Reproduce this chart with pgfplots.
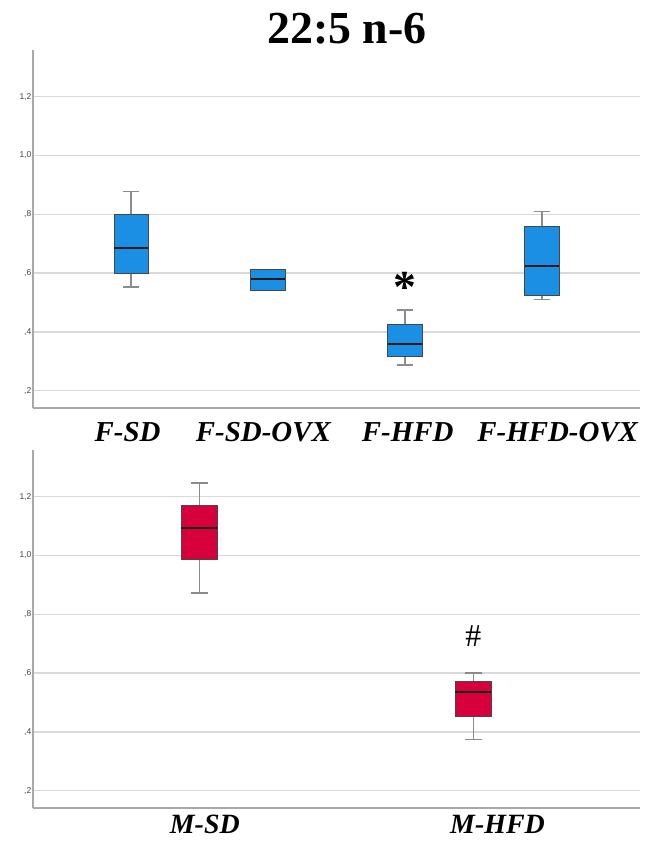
\documentclass[border=0pt]{standalone}
\usepackage{fontspec}
\setmainfont{Liberation Serif}
\newfontfamily\ticksans{Liberation Sans}
\usepackage{pgfplots}
\pgfplotsset{compat=1.18}
\usepgfplotslibrary{statistics}
\definecolor{spssblue}{HTML}{1A8FE3}
\definecolor{spssred}{HTML}{D6003C}
\definecolor{axgray}{HTML}{A8A8A8}
\definecolor{gridgray}{HTML}{D9D9D9}
\definecolor{whiskgray}{HTML}{8C8C8C}
\pgfplotsset{
  spssaxis/.style={
    scale only axis, width=607bp, height=358bp,
    ymin=0.141, ymax=1.359,
    axis x line=bottom, axis y line=left,
    axis line style={axgray, line width=1.6bp, -},
    ytick={0.2,0.4,0.6,0.8,1.0,1.2},
    yticklabels={{,2},{,4},{,6},{,8},{1,0},{1,2}},
    ymajorgrids, grid style={gridgray, line width=1.3bp},
    major tick length=0pt,
    yticklabel style={font=\ticksans\fontsize{8.5}{10}\selectfont, text=black!75, inner sep=1.5bp},
    xticklabel style={font=\bfseries\itshape\fontsize{29}{30}\selectfont, anchor=base},
  },
  bbox/.style={draw=black!72, line width=0.9bp, mark=none, fill=#1,
    boxplot/draw direction=y,
    boxplot/every median/.style={draw=black!90, line width=2bp},
    boxplot/every whisker/.style={draw=whiskgray, line width=1.5bp}},
}
\begin{document}
\begin{tikzpicture}
\path[use as bounding box] (0,0) rectangle (659bp,-845bp);
\node[font=\bfseries\fontsize{46}{46}\selectfont, anchor=base] at (347bp,-43bp) {22:5 n-6};

% Top panel: female groups
\begin{axis}[spssaxis, at={(33bp,-408bp)}, anchor=south west,
  xmin=0.283, xmax=4.717,
  xtick={0.974,1.966,3.02,4.116},
  xticklabels={F-SD,F-SD-OVX,F-HFD,F-HFD-OVX},
  xticklabel style={yshift=-33.7bp}]
\addplot[bbox=spssblue, boxplot prepared={draw position=1, lower whisker=0.553, lower quartile=0.600, median=0.684, upper quartile=0.800, upper whisker=0.878, box extend=0.25, whisker extend=0.12}] coordinates {};
\addplot[bbox=spssblue, boxplot prepared={draw position=2, lower whisker=0.540, lower quartile=0.540, median=0.579, upper quartile=0.614, upper whisker=0.614, box extend=0.25, whisker extend=0}] coordinates {};
\addplot[bbox=spssblue, boxplot prepared={draw position=3, lower whisker=0.288, lower quartile=0.316, median=0.359, upper quartile=0.425, upper whisker=0.475, box extend=0.25, whisker extend=0.12}] coordinates {};
\addplot[bbox=spssblue, boxplot prepared={draw position=4, lower whisker=0.511, lower quartile=0.524, median=0.624, upper quartile=0.760, upper whisker=0.810, box extend=0.25, whisker extend=0.12}] coordinates {};
\node[font=\bfseries\fontsize{46}{46}\selectfont] at (axis cs:3,0.552) {*};
\end{axis}

% Bottom panel: male groups
\begin{axis}[spssaxis, at={(33bp,-808bp)}, anchor=south west,
  xmin=0.393, xmax=2.608,
  xtick={1.02,2.088},
  xticklabels={M-SD,M-HFD},
  xticklabel style={yshift=-25.3bp, font=\bfseries\itshape\fontsize{28}{30}\selectfont}]
\addplot[bbox=spssred, boxplot prepared={draw position=1, lower whisker=0.872, lower quartile=0.985, median=1.094, upper quartile=1.172, upper whisker=1.246, box extend=0.131, whisker extend=0.064}] coordinates {};
\addplot[bbox=spssred, boxplot prepared={draw position=2, lower whisker=0.374, lower quartile=0.451, median=0.537, upper quartile=0.571, upper whisker=0.600, box extend=0.131, whisker extend=0.064}] coordinates {};
\node[font=\fontsize{32}{32}\selectfont] at (axis cs:2,0.725) {\#};
\end{axis}
\end{tikzpicture}
\end{document}
